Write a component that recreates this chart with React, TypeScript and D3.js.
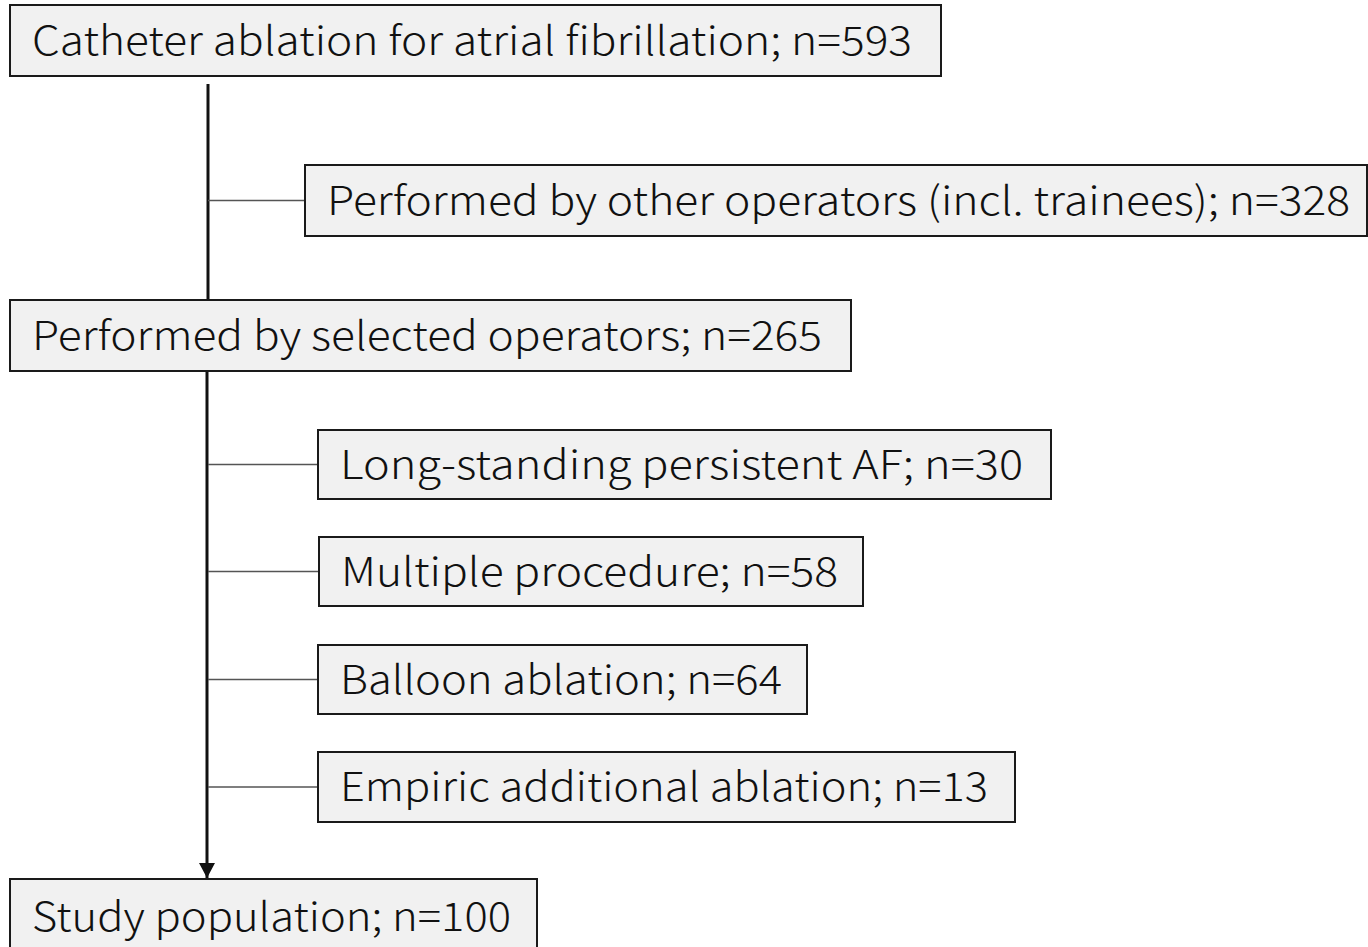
import React from 'react';
import * as d3 from 'd3';

// flow steps (main column) and exclusions (side boxes)
const mainLabels = [
  'Catheter ablation for atrial fibrillation',
  'Performed by selected operators',
  'Study population',
];
const mainCounts = [593, 265, 100];

const exclusionLabels = [
  'Performed by other operators (incl. trainees)',
  'Long-standing persistent AF',
  'Multiple procedure',
  'Balloon ablation',
  'Empiric additional ablation',
];
const exclusionCounts = [328, 30, 58, 64, 13];

// layout: box left, top, width, height, text width (px)
const mainBoxes = [
  { x: 10, y: 5, w: 931, h: 71, tw: 880 },
  { x: 10, y: 300, w: 841, h: 71, tw: 790 },
  { x: 10, y: 879, w: 527, h: 75, tw: 479 },
];
const exclusionBoxes = [
  { x: 305, y: 165, w: 1062, h: 71, tw: 1023 },
  { x: 318, y: 430, w: 733, h: 69, tw: 683 },
  { x: 319, y: 537, w: 544, h: 69, tw: 497 },
  { x: 318, y: 645, w: 489, h: 69, tw: 442 },
  { x: 318, y: 752, w: 697, h: 70, tw: 648 },
];

const W = 1368;
const H = 947;
const trunkX = 208;
const fontFamily = '"Noto Sans CJK JP", "Noto Sans", sans-serif';
const fontSize = 40;

const label = (l: string, n: number) => `${l}; n=${d3.format('d')(n)}`;

const Box = ({ b, text }: { b: any; text: string }) => (
  <g>
    <rect x={b.x} y={b.y} width={b.w} height={b.h} fill="#f1f1f1" stroke="#1a1a1a" strokeWidth={2} />
    <text
      x={b.x + 22}
      y={b.y + b.h / 2}
      dy="0.36em"
      fontFamily={fontFamily}
      fontSize={fontSize}
      fontWeight={300}
      fill="#111"
      textLength={b.tw}
      lengthAdjust="spacingAndGlyphs"
    >
      {text}
    </text>
  </g>
);

export default function App() {
  const m = mainBoxes;
  return (
    <svg width={W} height={H} style={{ position: 'absolute', left: 0, top: 0, background: '#fff' }}>
      <defs>
        <marker id="arrow" markerUnits="userSpaceOnUse" viewBox="0 0 15 16" refX={15} refY={8} markerWidth={15} markerHeight={16} orient="auto">
          <path d="M0,0L15,8L0,16z" fill="#111" />
        </marker>
      </defs>
      {/* trunk lines */}
      <line x1={trunkX} x2={trunkX} y1={m[0].y + m[0].h + 8} y2={m[1].y} stroke="#111" strokeWidth={3} />
      <line x1={trunkX - 1} x2={trunkX - 1} y1={m[1].y + m[1].h} y2={m[2].y - 1} stroke="#111" strokeWidth={3} markerEnd="url(#arrow)" />
      {/* branches */}
      {exclusionBoxes.map((b, i) => (
        <line key={'br' + i} x1={trunkX} x2={b.x} y1={b.y + b.h / 2} y2={b.y + b.h / 2} stroke="#555" strokeWidth={1.3} />
      ))}
      {mainLabels.map((l, i) => (
        <Box key={'m' + i} b={mainBoxes[i]} text={label(l, mainCounts[i])} />
      ))}
      {exclusionLabels.map((l, i) => (
        <Box key={'e' + i} b={exclusionBoxes[i]} text={label(l, exclusionCounts[i])} />
      ))}
    </svg>
  );
}
